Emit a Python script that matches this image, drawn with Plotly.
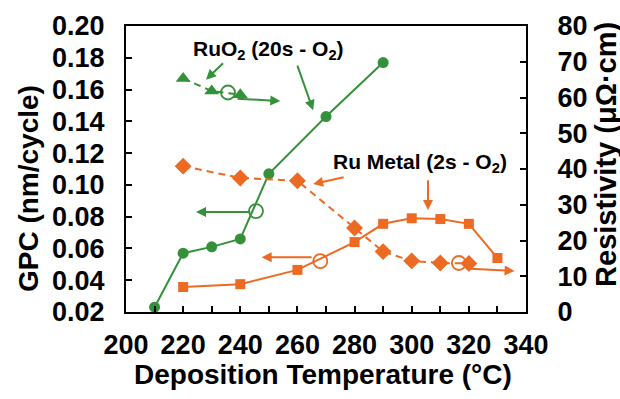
import plotly.graph_objects as go

# ---------------- data ----------------
temp_ruo2_gpc = [210, 220, 230, 240, 250, 270, 290]
gpc_ruo2 = [0.023, 0.057, 0.061, 0.066, 0.107, 0.143, 0.177]

temp_ruo2_res = [220, 230, 240]
res_ruo2 = [65.3, 61.8, 60.8]

temp_ru_gpc = [220, 240, 260, 280, 290, 300, 310, 320, 330]
gpc_ru = [0.0357, 0.0375, 0.0465, 0.064, 0.0755, 0.079, 0.0785, 0.0755, 0.054]

temp_ru_res = [220, 240, 260, 280, 290, 300, 310, 320]
res_ru = [40.8, 37.5, 36.7, 23.5, 16.9, 14.3, 13.7, 13.6]

# callout circles (x, value) on each curve
circle_ruo2_gpc = (245.5, 0.0835)
circle_ruo2_res = (235.7, 61.4)
circle_ru_gpc = (268.0, 0.052)
circle_ru_res = (316.5, 13.7)

x_ticks = [200, 220, 240, 260, 280, 300, 320, 340]

GREEN = "#34913A"
ORANGE = "#EC6A22"
FONT = "Liberation Sans, Arial, sans-serif"

fig = go.Figure()

fig.add_trace(go.Scatter(x=temp_ruo2_gpc, y=gpc_ruo2, mode="lines+markers",
                         line=dict(color=GREEN, width=2),
                         marker=dict(symbol="circle", size=11, color=GREEN),
                         yaxis="y", showlegend=False))
fig.add_trace(go.Scatter(x=temp_ruo2_res, y=res_ruo2, mode="lines+markers",
                         line=dict(color=GREEN, width=2, dash="7px,5px"),
                         marker=dict(symbol="triangle-up", size=13, color=GREEN),
                         yaxis="y2", showlegend=False))
fig.add_trace(go.Scatter(x=temp_ru_gpc, y=gpc_ru, mode="lines+markers",
                         line=dict(color=ORANGE, width=2),
                         marker=dict(symbol="square", size=10, color=ORANGE),
                         yaxis="y", showlegend=False))
fig.add_trace(go.Scatter(x=temp_ru_res, y=res_ru, mode="lines+markers",
                         line=dict(color=ORANGE, width=2, dash="7px,5px"),
                         marker=dict(symbol="diamond", size=13, color=ORANGE),
                         yaxis="y2", showlegend=False))

for (cx, cy), col, ax in [(circle_ruo2_gpc, GREEN, "y"), (circle_ruo2_res, GREEN, "y2"),
                          (circle_ru_gpc, ORANGE, "y"), (circle_ru_res, ORANGE, "y2")]:
    fig.add_trace(go.Scatter(x=[cx], y=[cy], mode="markers",
                             marker=dict(symbol="circle-open", size=14,
                                         color=col, line=dict(width=1.8)),
                             yaxis=ax, showlegend=False))

# arrows: (head_x, head_y, tail_x, tail_y, yref, color)
arrows = [
    (224.5, 0.0830, 244.0, 0.0830, "y", GREEN),       # RuO2 GPC circle -> left axis
    (254.0, 59.0, 238.5, 59.7, "y2", GREEN),          # RuO2 res circle -> right axis
    (247.5, 0.0545, 265.5, 0.0545, "y", ORANGE),      # Ru GPC circle -> left axis
    (336.0, 11.5, 318.5, 12.2, "y2", ORANGE),         # Ru res circle -> right axis
    (228.0, 65.0, 234.5, 70.0, "y2", GREEN),          # label -> RuO2 resistivity
    (265.5, 0.1470, 259.8, 0.1760, "y", GREEN),       # label -> RuO2 GPC
    (265.5, 35.8, 276.7, 37.8, "y2", ORANGE),         # label -> Ru resistivity
    (305.7, 28.5, 305.7, 37.3, "y2", ORANGE),         # label -> Ru GPC
]
for hx, hy, tx, ty, yr, col in arrows:
    fig.add_annotation(x=hx, y=hy, ax=tx, ay=ty, xref="x", yref=yr,
                       axref="x", ayref=yr, text="", showarrow=True,
                       arrowhead=2, arrowsize=1, arrowwidth=2, arrowcolor=col)

def label(text, x, y, size, angle=0):
    fig.add_annotation(x=x, y=y, xref="paper", yref="paper", text=text,
                       showarrow=False, textangle=angle,
                       xanchor="center", yanchor="middle",
                       font=dict(family=FONT, size=size, color="black", weight="bold"))

label("RuO<sub>2</sub> (20s - O<sub>2</sub>)", 0.355, 0.915, 21)
label("Ru Metal (2s - O<sub>2</sub>)", 0.735, 0.52, 21)
label("GPC (nm/cycle)", -0.245, 0.43, 28, -90)
label("Resistivity (μΩ·cm)", 1.198, 0.55, 29, -90)
label("Deposition Temperature (°C)", 0.4925, -0.22, 28)

tickfont = dict(family=FONT, size=27, color="black", weight="bold")

fig.update_layout(
    width=620, height=399,
    margin=dict(l=126, r=94, t=26, b=87),
    paper_bgcolor="white", plot_bgcolor="white",
    xaxis=dict(range=[200, 340], tickvals=x_ticks, ticks="inside", ticklen=6,
               tickwidth=2, tickcolor="black",
               minor=dict(dtick=10, tick0=200, ticks="inside", ticklen=6,
                          tickwidth=2, tickcolor="black"),
               showline=True, linewidth=2, linecolor="black", mirror=True,
               showgrid=False, zeroline=False, tickfont=tickfont,
               ticklabelstandoff=8),
    yaxis=dict(range=[0.02, 0.20], dtick=0.02, tick0=0.02, tickformat=".2f",
               ticks="inside", ticklen=6, tickwidth=2, tickcolor="black",
               showline=True, linewidth=2, linecolor="black",
               showgrid=False, zeroline=False, tickfont=tickfont,
               ticklabelstandoff=14),
    yaxis2=dict(range=[0, 80], dtick=10, overlaying="y", side="right",
                ticks="inside", ticklen=6, tickwidth=2, tickcolor="black",
                showline=True, linewidth=2, linecolor="black",
                showgrid=False, zeroline=False, tickfont=tickfont,
                ticklabelstandoff=24),
)

fig.write_html("out.html")
